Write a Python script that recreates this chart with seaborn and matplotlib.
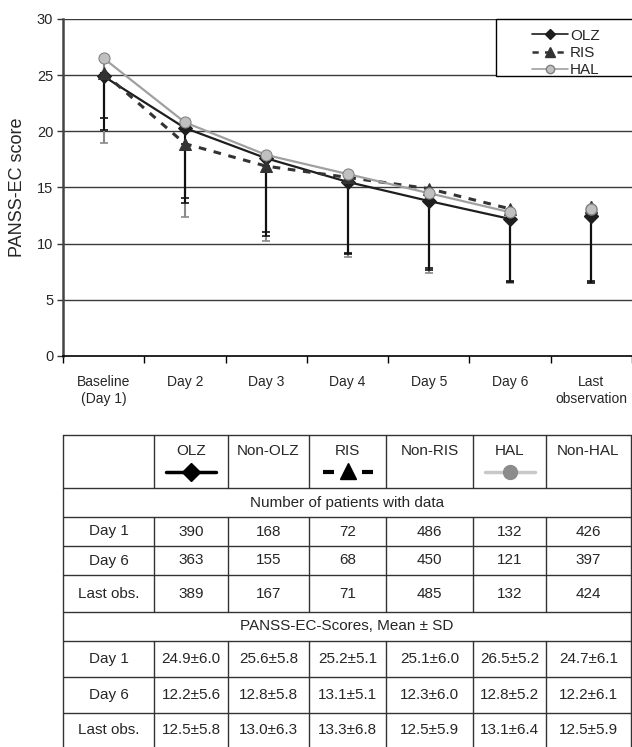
import numpy as np
import pandas as pd
import seaborn as sns
import matplotlib.pyplot as plt
from matplotlib.lines import Line2D
from matplotlib.patches import Rectangle

# chart values
days = ['Baseline\n(Day 1)', 'Day 2', 'Day 3', 'Day 4', 'Day 5', 'Day 6', 'Last\nobservation']
olz_mean = [24.9, 20.3, 17.6, 15.5, 13.8, 12.2, 12.5]
ris_mean = [25.2, 18.9, 16.9, 15.9, 14.9, 13.1, 13.3]
hal_mean = [26.5, 20.8, 17.9, 16.2, 14.5, 12.8, 13.1]
# lower end of the error bars (mean - SD)
olz_low = [20.1, 14.1, 10.7, 9.2, 7.8, 6.6, 6.7]
ris_low = [21.2, 13.6, 11.0, 9.1, 7.7, 6.7, 6.5]
hal_low = [19.0, 12.4, 10.2, 8.8, 7.4, 6.5, 6.6]

# table values
groups = ['OLZ', 'Non-OLZ', 'RIS', 'Non-RIS', 'HAL', 'Non-HAL']
row_labels = ['Day 1', 'Day 6', 'Last obs.']
n_day1 = [390, 168, 72, 486, 132, 426]
n_day6 = [363, 155, 68, 450, 121, 397]
n_last = [389, 167, 71, 485, 132, 424]
mean_day1 = [24.9, 25.6, 25.2, 25.1, 26.5, 24.7]
sd_day1 = [6.0, 5.8, 5.1, 6.0, 5.2, 6.1]
mean_day6 = [12.2, 12.8, 13.1, 12.3, 12.8, 12.2]
sd_day6 = [5.6, 5.8, 5.1, 6.0, 5.2, 6.1]
mean_last = [12.5, 13.0, 13.3, 12.5, 13.1, 12.5]
sd_last = [5.8, 6.3, 6.8, 5.9, 6.4, 5.9]

sns.set_style('white')
plt.rcParams['font.family'] = ['Liberation Sans', 'DejaVu Sans']

W, H = 632, 747
fig = plt.figure(figsize=(W / 100, H / 100), dpi=100)
ax = fig.add_axes([63 / W, 1 - 356 / H, 569 / W, 337 / H])

pos = np.arange(len(days))
styles = [
    ('OLZ', olz_mean, olz_low, dict(color='#1e1e1e', marker='D', ms=7, mfc='#1e1e1e', mec='#1e1e1e', ls='-', lw=1.6)),
    ('RIS', ris_mean, ris_low, dict(color='#333333', marker='^', ms=9, mfc='#333333', mec='#333333', ls=(0, (2.5, 2.5)), lw=2.2)),
    ('HAL', hal_mean, hal_low, dict(color='#a0a0a0', marker='o', ms=8, mfc='#c0c0c0', mec='#808080', ls='-', lw=1.6)),
]

# grid lines
for g in range(5, 31, 5):
    ax.axhline(g, color='#3a3a3a', lw=1.0, zorder=1)

# error bars (lower side only)
for name, m, low, st in [styles[2], styles[0], styles[1]]:
    ec = '#8a8a8a' if name == 'HAL' else '#111111'
    ax.errorbar(pos, m, yerr=[np.array(m) - np.array(low), np.zeros(len(m))],
                fmt='none', ecolor=ec, elinewidth=1.5, capsize=3, capthick=1.2,
                zorder=2 if name == 'HAL' else 3)

# lines days 1-6, last observation as separate point
for i, (name, m, low, st) in enumerate(styles):
    sns.lineplot(x=pos[:6], y=m[:6], ax=ax, color=st['color'], marker=st['marker'],
                 markersize=st['ms'], markerfacecolor=st['mfc'], markeredgecolor=st['mec'],
                 linestyle=st['ls'], linewidth=st['lw'], zorder=4 + i)
    ax.plot(pos[6:], m[6:], ls='none', marker=st['marker'], ms=st['ms'],
            mfc=st['mfc'], mec=st['mec'], zorder=4 + i)

ax.set_xlim(-0.5, 6.5)
ax.set_ylim(0, 30)
ax.set_yticks(range(0, 31, 5))
ax.set_xticks(pos)
ax.set_xticklabels(days, fontsize=10)
ax.set_xticks(np.arange(-0.5, 7, 1), minor=True)
ax.tick_params(axis='x', which='major', length=0, pad=14)
ax.tick_params(axis='x', which='minor', length=5, width=1, color='black', direction='out', bottom=True)
ax.tick_params(axis='y', length=4, width=1, color='#333333', direction='out', left=True, labelsize=10.5, pad=3)
ax.set_ylabel('PANSS-EC score', fontsize=13, labelpad=8)
ax.set_xlabel('')
for s in ['top', 'right']:
    ax.spines[s].set_visible(False)
ax.spines['left'].set_color('#444444')
ax.spines['left'].set_linewidth(1.8)
ax.spines['bottom'].set_color('black')
ax.spines['bottom'].set_linewidth(1.2)
ax.set_facecolor('white')

# overlay in pixel coordinates for legend box and table
tab = fig.add_axes([0, 0, 1, 1], zorder=3)
tab.set_xlim(0, W)
tab.set_ylim(H, 0)
tab.axis('off')
tab.patch.set_alpha(0)

tab.add_patch(Rectangle((496, 19), 150, 57, facecolor='white', edgecolor='black', lw=1.0, clip_on=False))

handles = [Line2D([], [], color=st['color'], marker=st['marker'], ms=st['ms'] - 2,
                  mfc=st['mfc'], mec=st['mec'], ls=st['ls'], lw=st['lw'] - 0.4)
           for _, _, _, st in styles]
fig.legend(handles, [s[0] for s in styles], loc='upper left',
           bbox_to_anchor=(524 / W, 1 - 21 / H), frameon=False, fontsize=11,
           handlelength=2.4, handletextpad=0.1, labelspacing=0.22, borderpad=0)

# table
col_x = [63, 154, 228, 309, 386, 473, 546, 631]
row_y = [435, 488, 517, 546, 575, 612, 641, 677, 713, 747]
lc = '#333333'
for y in row_y[:-1]:
    tab.plot([col_x[0], col_x[-1]], [y, y], color=lc, lw=1.0)
for x in col_x:
    if x in (col_x[0], col_x[-1]):
        spans = [(row_y[0], row_y[-1])]
    else:
        spans = [(row_y[0], row_y[1]), (row_y[2], row_y[5]), (row_y[6], row_y[9])]
    for y0, y1 in spans:
        tab.plot([x, x], [y0, y1], color=lc, lw=1.0)

fs = 11
cx = [(col_x[i] + col_x[i + 1]) / 2 for i in range(len(col_x) - 1)]
for j, g in enumerate(groups):
    tab.text(cx[j + 1], 451, g, ha='center', va='center', fontsize=fs)

# series glyphs under drug names
glyph_cols = {'OLZ': 1, 'RIS': 3, 'HAL': 5}
for name, m, low, st in styles:
    c = cx[glyph_cols[name]]
    if name == 'RIS':
        tab.plot([c - 25, c - 14], [472, 472], color='black', lw=3, solid_capstyle='butt')
        tab.plot([c + 14, c + 25], [472, 472], color='black', lw=3, solid_capstyle='butt')
        tab.plot([c], [471], marker='^', ms=11, color='black')
    elif name == 'OLZ':
        tab.plot([c - 25, c + 25], [472, 472], color='black', lw=2.5)
        tab.plot([c], [472], marker='D', ms=9, color='black')
    else:
        tab.plot([c - 25, c + 25], [472, 472], color='#c8c8c8', lw=2.5)
        tab.plot([c], [472], marker='o', ms=10, color='#8c8c8c')

tab.text((col_x[0] + col_x[-1]) / 2, (row_y[1] + row_y[2]) / 2, 'Number of patients with data',
         ha='center', va='center', fontsize=fs)
tab.text((col_x[0] + col_x[-1]) / 2, (row_y[5] + row_y[6]) / 2, 'PANSS-EC-Scores, Mean \u00b1 SD',
         ha='center', va='center', fontsize=fs)

counts = [n_day1, n_day6, n_last]
scores = [(mean_day1, sd_day1), (mean_day6, sd_day6), (mean_last, sd_last)]
for r in range(3):
    yc = (row_y[2 + r] + row_y[3 + r]) / 2
    tab.text(cx[0], yc, row_labels[r], ha='center', va='center', fontsize=fs)
    for j in range(6):
        tab.text(cx[j + 1], yc, str(counts[r][j]), ha='center', va='center', fontsize=fs)
    yc = (row_y[6 + r] + row_y[7 + r]) / 2
    tab.text(cx[0], yc, row_labels[r], ha='center', va='center', fontsize=fs)
    mm, ss = scores[r]
    for j in range(6):
        tab.text(cx[j + 1], yc, f'{mm[j]:.1f}\u00b1{ss[j]:.1f}', ha='center', va='center', fontsize=fs)

fig.savefig('out.png', dpi=100)
